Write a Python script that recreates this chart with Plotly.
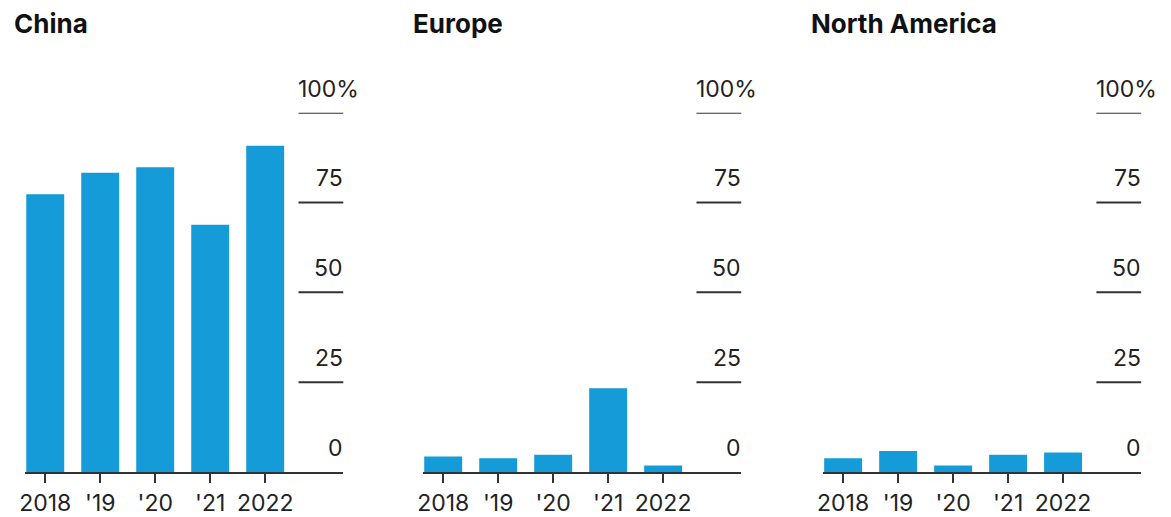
import plotly.graph_objects as go

# ---- data ----
years = ["2018", "'19", "'20", "'21", "2022"]
regions = ["China", "Europe", "North America"]
china = [77.3, 83.3, 84.8, 68.8, 90.8]
europe = [4.3, 3.8, 4.8, 23.3, 1.8]
north_america = [3.8, 5.8, 1.8, 4.8, 5.4]
y_ticks = [0, 25, 50, 75, 100]
y_tick_text = ["0", "25", "50", "75", "100%"]

series = [china, europe, north_america]

W, H = 1171, 517
BAR_COLOR = "#159bd7"
AXIS_COLOR = "#333333"
FONT = "Inter, Liberation Sans, Arial, sans-serif"

# panel pixel extents (left, right)
panels_px = [(19, 339), (419, 739), (821, 1141)]
title_px = [6, 407, 807]
y_bottom = (H - 477.5) / H
y_top = (H - 114) / H

fig = go.Figure()
for i, (vals, (l, r)) in enumerate(zip(series, panels_px)):
    ax = "" if i == 0 else str(i + 1)
    fig.add_trace(go.Bar(
        x=years, y=vals, xaxis="x" + ax, yaxis="y" + ax,
        marker=dict(color=BAR_COLOR, line=dict(width=0)),
        width=0.69, showlegend=False, hoverinfo="x+y",
    ))
    fig.update_layout(**{
        "xaxis" + ax: dict(
            domain=[l / W, r / W], anchor="y" + ax, type="category",
            range=[-0.37, 5.42], showline=True, linecolor=AXIS_COLOR, linewidth=2,
            ticks="outside", ticklen=9, tickwidth=2, tickcolor=AXIS_COLOR,
            tickfont=dict(size=23, color="#222222", family=FONT),
            showgrid=False, zeroline=False, fixedrange=True,
        ),
        "yaxis" + ax: dict(
            domain=[y_bottom, y_top], anchor="x" + ax, range=[0, 100],
            showgrid=False, zeroline=False, showticklabels=False, showline=False,
            fixedrange=True,
        ),
    })
    grid_x0 = (r - 45 - l) / (r - l)
    for v, t in zip(y_ticks, y_tick_text):
        if v != 0:
            fig.add_shape(type="line", xref="x" + ax + " domain", yref="y" + ax,
                          x0=grid_x0, x1=1, y0=v, y1=v,
                          line=dict(color=AXIS_COLOR, width=2))
        if t.endswith("%"):
            # top label starts at the gridline's left end, % hangs past the edge
            fig.add_annotation(xref="x" + ax + " domain", yref="y" + ax, x=grid_x0, y=v,
                               text=t, showarrow=False, xanchor="left", yanchor="bottom",
                               yshift=8, xshift=-2,
                               font=dict(size=23, color="#222222", family=FONT))
        else:
            fig.add_annotation(xref="x" + ax + " domain", yref="y" + ax, x=1, y=v,
                               text=t, showarrow=False, xanchor="right", yanchor="bottom",
                               yshift=8, xshift=2,
                               font=dict(size=23, color="#222222", family=FONT))
    fig.add_annotation(xref="paper", yref="paper", x=title_px[i] / W, y=(H - 24) / H,
                       text="<b>" + regions[i] + "</b>", showarrow=False,
                       xanchor="left", yanchor="middle",
                       font=dict(size=26, color="#111111", family=FONT))

fig.update_layout(
    width=W, height=H, margin=dict(l=0, r=0, t=0, b=0),
    paper_bgcolor="white", plot_bgcolor="white", bargap=0.3,
)
fig.write_html("out.html")
